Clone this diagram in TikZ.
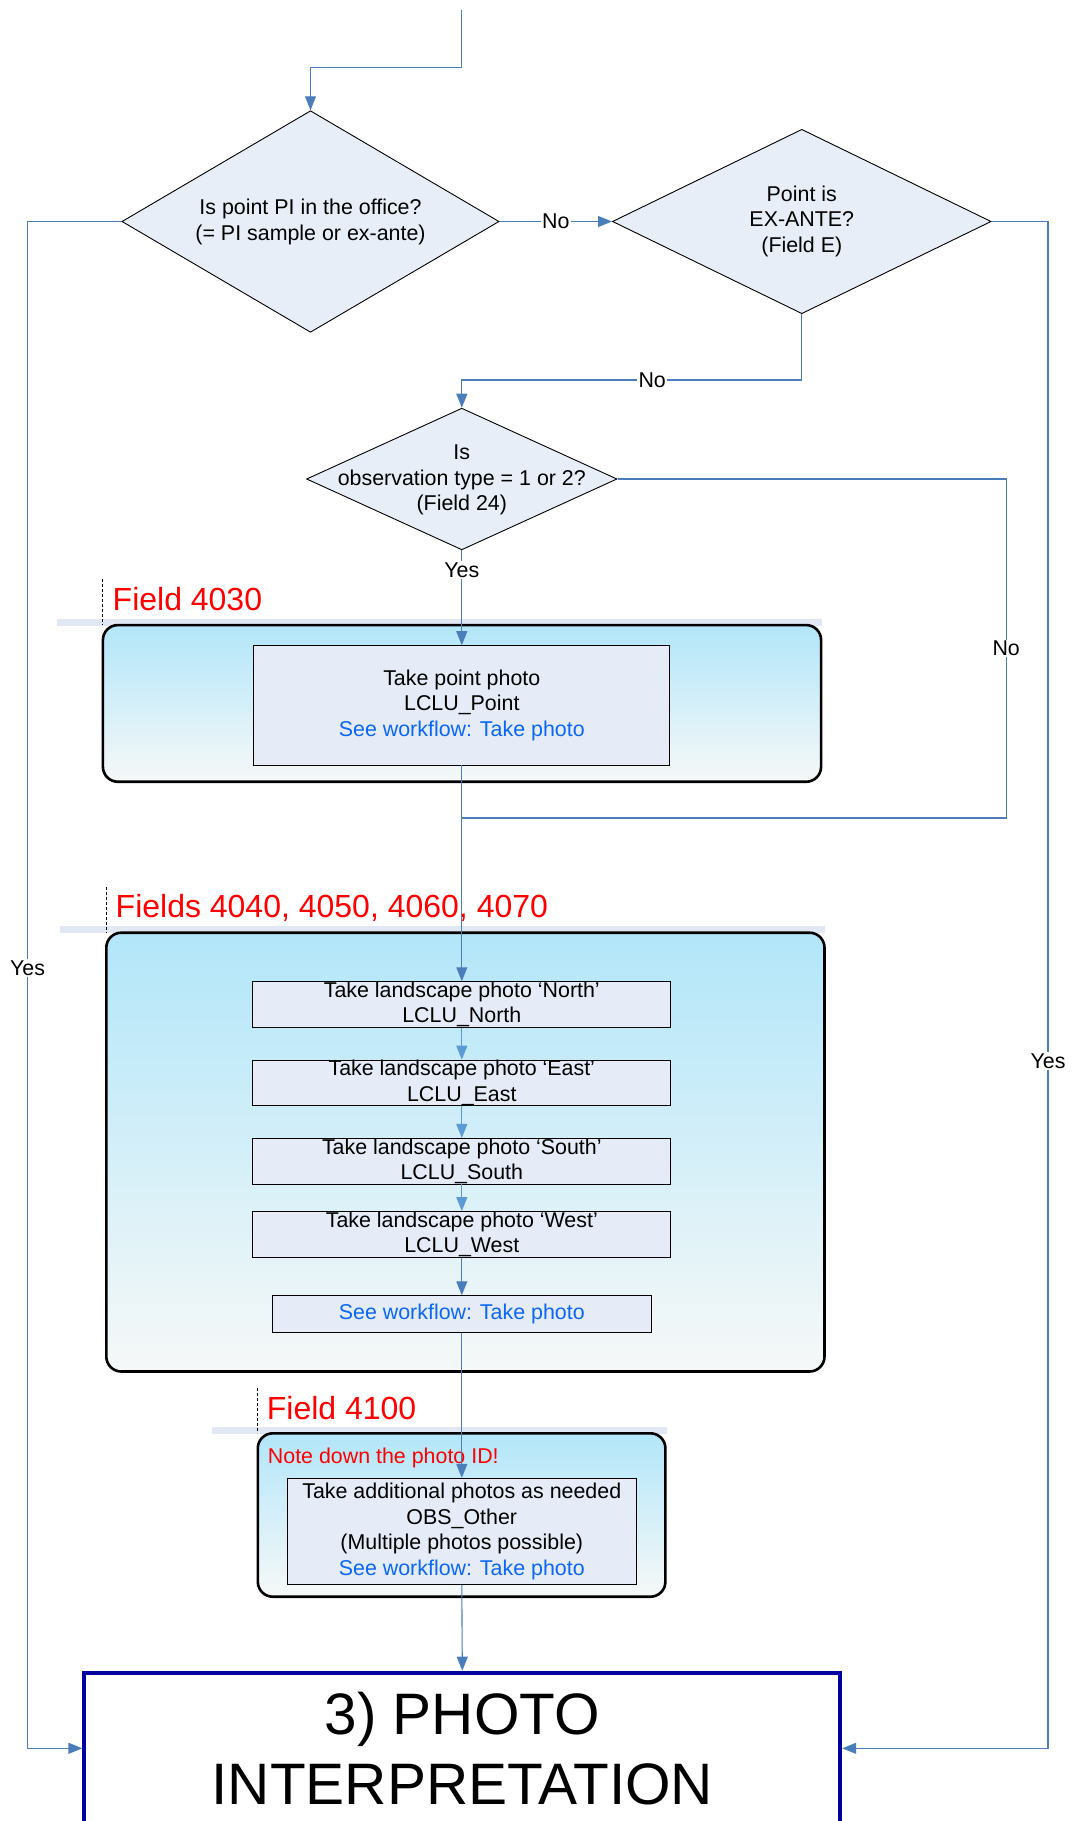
\documentclass[tikz,border=0pt]{standalone}
\usepackage{fontspec}
\setmainfont{Liberation Sans}
\usetikzlibrary{shapes.geometric,arrows.meta}
\definecolor{conn}{HTML}{4A7EBB}
\definecolor{connlight}{HTML}{5B9BD5}
\definecolor{dfill}{HTML}{E8EEF8}
\definecolor{bfill}{HTML}{E6ECF7}
\definecolor{ctop}{HTML}{B2E6F9}
\definecolor{cbot}{HTML}{F6F8F8}
\definecolor{barc}{HTML}{E2E8F3}
\definecolor{linkc}{HTML}{0A66F5}
\definecolor{redc}{HTML}{FF0000}
\definecolor{navyc}{HTML}{0000A0}
\begin{document}
\begin{tikzpicture}[x=1pt,y=-1pt,
  txt/.style={font=\fontsize{21.4}{25.5}\selectfont, align=center, inner sep=0pt},
  dshape/.style={diamond, draw=black, fill=dfill, line width=0.9pt, inner sep=0pt},
  stepbox/.style={rectangle, draw=black, fill=bfill, line width=0.9pt, inner sep=0pt, font=\fontsize{21.4}{25.5}\selectfont, align=center},
  container/.style={rectangle, rounded corners=15pt, draw=black, line width=2.6pt, top color=ctop, bottom color=cbot, inner sep=0pt},
  conline/.style={draw=conn, line width=1.1pt},
  arr/.style={conline, -{Triangle[length=14pt,width=11pt]}},
  arrl/.style={draw=connlight, line width=1.1pt, -{Triangle[length=14pt,width=11pt]}},
  lbl/.style={font=\fontsize{21.4}{25.5}\selectfont, fill=white, inner sep=1.5pt},
  fieldlbl/.style={font=\fontsize{32}{38}\selectfont, text=redc, anchor=west, inner sep=0pt},
  headbar/.style={draw=barc, line width=7pt},
  headdash/.style={draw=black, dash pattern=on 3pt off 2pt, line width=1pt}
]
\fill[white] (0,0) rectangle (1075,1821);
\useasboundingbox (0,0) rectangle (1075,1821);

% header bars and containers
\draw[headbar] (56.7,622) -- (821.7,622);
\draw[headbar] (60.3,929) -- (825.1,929);
\draw[headbar] (212,1430) -- (666.9,1430);
\node[container, minimum width=718.2pt, minimum height=156.7pt] (c1) at (462,703.4) {};
\node[container, minimum width=718.2pt, minimum height=438.8pt] (c2) at (465.4,1152.1) {};
\node[container, minimum width=407.6pt, minimum height=163.4pt] (c3) at (461.6,1515) {};
\draw[headdash] (102.9,579) -- (102.9,625);
\draw[headdash] (106.3,887) -- (106.3,933);
\draw[headdash] (257.8,1388) -- (257.8,1433);

\node[fieldlbl] (f1) at (112.5,599) {Field 4030};
\node[fieldlbl] (f2) at (115.5,907.5) {Fields 4040, 4050, 4060, 4070};
\node[fieldlbl] (f3) at (266.7,1408.3) {Field 4100};
\node[txt, text=redc, anchor=west] (note) at (267.7,1458.3) {Note down the photo ID!};

% diamonds
\node[dshape, minimum width=377.2pt, minimum height=221.6pt] (d1) at (310.5,221.5) {};
\node[txt] (d1t) at (310.5,222) {Is point PI in the office?\\(= PI sample or ex-ante)};
\node[dshape, minimum width=378.7pt, minimum height=184.4pt] (d2) at (801.8,221.5) {};
\node[txt] (d2t) at (801.8,221) {Point is\\EX-ANTE?\\(Field E)};
\node[dshape, minimum width=310.5pt, minimum height=141.7pt] (d3) at (461.8,479) {};
\node[txt] (d3t) at (461.8,480) {Is\\observation type = 1 or 2?\\(Field 24)};

% boxes
\node[stepbox, minimum width=416pt, minimum height=119.3pt] (pp) at (461.8,705.3) {Take point photo\\LCLU\_Point\\\textcolor{linkc}{See workflow: Take photo}};
\node[stepbox, minimum width=418pt, minimum height=45.6pt] (bn) at (461.8,1004.5) {Take landscape photo ‘North’\\LCLU\_North};
\node[stepbox, minimum width=418pt, minimum height=45.6pt] (be) at (461.8,1082.9) {Take landscape photo ‘East’\\LCLU\_East};
\node[stepbox, minimum width=418pt, minimum height=45.6pt] (bs) at (461.8,1161.2) {Take landscape photo ‘South’\\LCLU\_South};
\node[stepbox, minimum width=418pt, minimum height=45.6pt] (bw) at (461.8,1234.3) {Take landscape photo ‘West’\\LCLU\_West};
\node[stepbox, minimum width=378.6pt, minimum height=36.6pt, text=linkc] (see) at (461.8,1314) {See workflow: Take photo};
\node[stepbox, minimum width=348.4pt, minimum height=106pt] (add) at (461.8,1531.3) {Take additional photos as needed\\OBS\_Other\\(Multiple photos possible)\\\textcolor{linkc}{See workflow: Take photo}};
\node[draw=navyc, line width=4pt, fill=white, minimum width=755.8pt, minimum height=151.2pt, font=\fontsize{58.5}{70}\selectfont, align=center, inner sep=0pt] (photo) at (462.3,1748.3) {3) PHOTO\\INTERPRETATION};

% connectors
\coordinate (start) at (461.8,10);
\draw[arr] (start) -- (461.8,67.3) -| (d1.north);
\draw[arr] (d1.east) -- node[lbl] (lno1) {No} (d2.west);
\draw[arr] (d2.south) -- (801.8,380) -- node[lbl,pos=0.44] (lno2) {No} (461.8,380) -- (d3.north);
\draw[conline] (d3.east) -- (1006.2,479) -- node[lbl] (lno3) {No} (1006.2,818) -- (461.8,818);
\draw[arr] (d3.south) -- node[lbl,pos=0.21] (lyes1) {Yes} (pp.north);
\draw[arr] (pp.south) -- (bn.north);
\draw[arrl] (bn.south) -- (be.north);
\draw[arrl] (be.south) -- (bs.north);
\draw[arrl] (bs.south) -- (bw.north);
\draw[arr] (bw.south) -- (see.north);
\draw[arr] (see.south) -- (add.north);
\draw[arr] (add.south) -- (photo.north);
\draw[arr] (d1.west) -- (27.5,221.5) -- node[lbl,pos=0.489] (lyes2) {Yes} (27.5,1748.3) -- (photo.west);
\draw[arr] (d2.east) -- (1048,221.5) -- node[lbl,pos=0.55] (lyes3) {Yes} (1048,1748.3) -- (photo.east);
\end{tikzpicture}
\end{document}
